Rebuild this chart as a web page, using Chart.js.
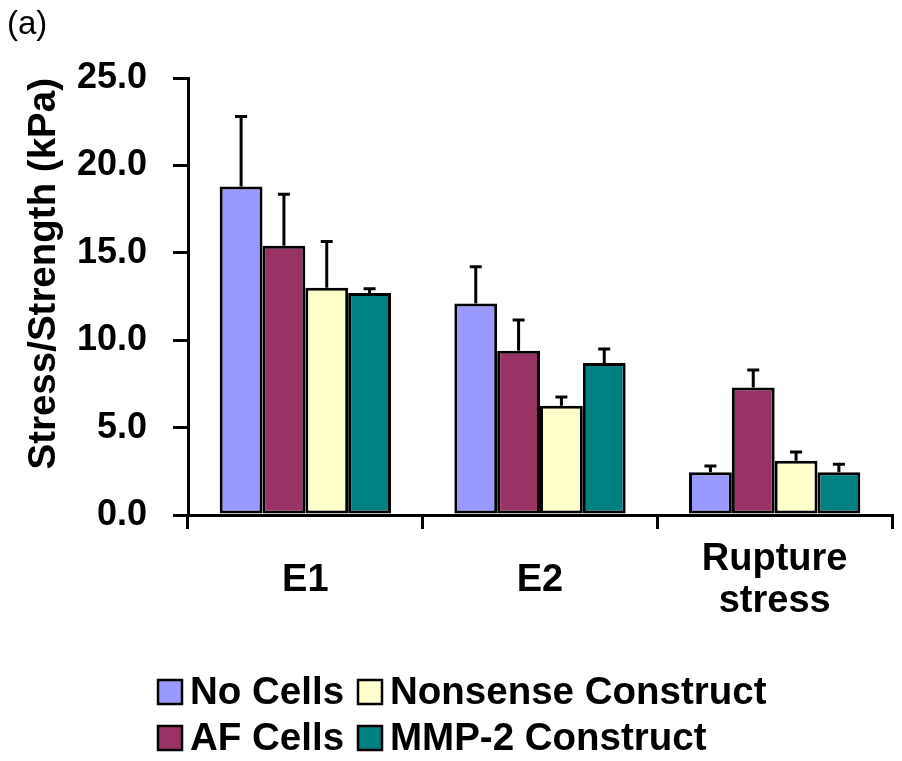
<!DOCTYPE html>
<html>
<head>
<meta charset="utf-8">
<script src="https://cdn.jsdelivr.net/npm/chart.js@4.4.0/dist/chart.umd.min.js"></script>
<style>
  body { margin: 0; background: #fff; }
  canvas { display: block; }
</style>
</head>
<body>
<canvas id="myChart" width="902" height="761"></canvas>
<script>
let categories = [['E1'], ['E2'], ['Rupture', 'stress']];
let seriesNames = ['No Cells', 'AF Cells', 'Nonsense Construct', 'MMP-2 Construct'];
let colors = ['#9999FF', '#993366', '#FFFFCC', '#008080'];

let noCells = [18.8, 12.1, 2.45];
let afCells = [15.4, 9.4, 7.3];
let nonsense = [13.0, 6.25, 3.1];
let mmp2 = [12.7, 8.7, 2.45];

// upper error bars (only drawn upward)
let noCellsErr = [4.0, 2.1, 0.35];
let afCellsErr = [2.95, 1.75, 1.0];
let nonsenseErr = [2.65, 0.5, 0.5];
let mmp2Err = [0.25, 0.8, 0.45];

let yTickLabels = ['0.0', '5.0', '10.0', '15.0', '20.0', '25.0'];

let values = [noCells, afCells, nonsense, mmp2];
let errors = [noCellsErr, afCellsErr, nonsenseErr, mmp2Err];

let FONT = '"Liberation Sans", Arial, sans-serif';

let errorBars = {
  id: 'errorBars',
  afterDatasetsDraw(chart) {
    let ctx = chart.ctx;
    let y = chart.scales.y;
    ctx.save();
    ctx.strokeStyle = '#000';
    ctx.lineWidth = 3;
    chart.data.datasets.forEach(function (ds, i) {
      let meta = chart.getDatasetMeta(i);
      meta.data.forEach(function (bar, j) {
        let top = y.getPixelForValue(ds.data[j] + ds.errors[j]);
        ctx.beginPath();
        ctx.moveTo(bar.x, bar.y);
        ctx.lineTo(bar.x, top);
        ctx.moveTo(bar.x - 6, top);
        ctx.lineTo(bar.x + 6, top);
        ctx.stroke();
      });
    });
    ctx.restore();
  }
};

let extras = {
  id: 'extras',
  afterDraw(chart) {
    let ctx = chart.ctx;
    ctx.save();
    ctx.fillStyle = '#000';
    ctx.textBaseline = 'middle';
    ctx.textAlign = 'left';
    ctx.font = '33px ' + FONT;
    ctx.fillText('(a)', 7, 25);

    // legend, two columns
    let cols = [158, 358];
    let rows = [692, 738];
    ctx.font = 'bold 38.5px ' + FONT;
    chart.data.datasets.forEach(function (ds, i) {
      let x = cols[Math.floor(i / 2)];
      let yy = rows[i % 2];
      ctx.fillStyle = ds.backgroundColor;
      ctx.fillRect(x, yy - 12, 24, 24);
      ctx.strokeStyle = '#000';
      ctx.lineWidth = 2.5;
      ctx.strokeRect(x, yy - 12, 24, 24);
      ctx.fillStyle = '#000';
      ctx.fillText(ds.label, x + 32, yy + 1);
    });
    ctx.restore();
  }
};

let datasets = seriesNames.map(function (name, i) {
  return {
    label: name,
    data: values[i],
    errors: errors[i],
    backgroundColor: colors[i],
    borderColor: '#000',
    borderWidth: 3,
    borderSkipped: false,
    barPercentage: 1,
    categoryPercentage: 0.73
  };
});

let myChart = new Chart(document.getElementById('myChart').getContext('2d'), {
  type: 'bar',
  data: {
    labels: categories,
    datasets: datasets
  },
  options: {
    responsive: false,
    animation: false,
    events: [],
    layout: {
      padding: { top: 78, left: 0, right: 10, bottom: 0 }
    },
    plugins: {
      legend: { display: false },
      tooltip: { enabled: false },
      title: { display: false }
    },
    scales: {
      x: {
        afterFit: function (scale) { scale.height = 246; },
        grid: {
          offset: true,
          drawOnChartArea: false,
          drawTicks: true,
          tickLength: 14,
          color: '#000',
          lineWidth: 3
        },
        border: { color: '#000', width: 3 },
        ticks: {
          color: '#000',
          padding: 31,
          crossAlign: 'center',
          maxRotation: 0,
          font: { family: FONT, size: 38, weight: 'bold', lineHeight: 1.1 }
        }
      },
      y: {
        min: 0,
        max: 25,
        afterFit: function (scale) { scale.width = 188; },
        grid: {
          drawOnChartArea: false,
          drawTicks: true,
          tickLength: 15,
          color: '#000',
          lineWidth: 3
        },
        border: { color: '#000', width: 3 },
        ticks: {
          stepSize: 5,
          color: '#000',
          padding: 26,
          font: { family: FONT, size: 36, weight: 'bold' },
          callback: function (value, index) { return yTickLabels[index]; }
        },
        title: {
          display: true,
          text: 'Stress/Strength (kPa)',
          align: 'end',
          color: '#000',
          padding: { top: 21, bottom: 0 },
          font: { family: FONT, size: 38.5, weight: 'bold', lineHeight: 1.2 }
        }
      }
    }
  },
  plugins: [errorBars, extras]
});
</script>
</body>
</html>
